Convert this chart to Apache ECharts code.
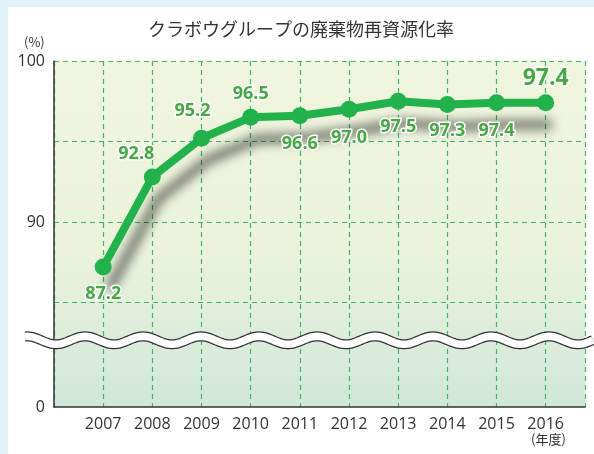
<!DOCTYPE html>
<html>
<head>
<meta charset="utf-8">
<script src="https://cdn.jsdelivr.net/npm/echarts@6.0.0/dist/echarts.min.js"></script>
<style>
  html, body { margin: 0; padding: 0; }
  body { width: 594px; height: 454px; background: #e0f2fa; position: relative; overflow: hidden; }
  #chart { position: absolute; left: 8px; top: 7px; width: 586px; height: 447px; background: #fff; }
</style>
</head>
<body>
<div id="chart"></div>
<script>
// 年度
var years = [2007, 2008, 2009, 2010, 2011, 2012, 2013, 2014, 2015, 2016];
// 再資源化率(%)
var rates = [87.2, 92.8, 95.2, 96.5, 96.6, 97.0, 97.5, 97.3, 97.4, 97.4];
// y軸の目盛ラベル(上段 / 下段)
var yTickLabels = [90, 100];
var yBaseLabels = [0];

var titleText = "クラボウグループの廃棄物再資源化率";
var green = "#22b24c";
var labelGreen = "#47a944";
var gridGreen = "#3db86b";
var dash = { color: gridGreen, type: [5, 4], width: 1.2 };

// ラベル位置(上/下)
function labelFor(i) {
  return [
    { position: "bottom", distance: 9 },
    { position: "top", distance: 6, offset: [-16, 0] },
    { position: "top", distance: 10, offset: [-9, 0] },
    { position: "top", distance: 6 },
    { position: "bottom", distance: 11 },
    { position: "bottom", distance: 11 },
    { position: "bottom", distance: 8 },
    { position: "bottom", distance: 9 },
    { position: "bottom", distance: 11 },
    { position: "top", distance: 4, fontSize: 23 }
  ][i];
}

var seriesData = years.map(function (y, i) {
  return { value: [y, rates[i]], label: labelFor(i) };
});

var myChart = echarts.init(document.getElementById("chart"));

var tickFont = { fontFamily: "Open Sans", fontSize: 16, color: "#333", margin: 9 };

var option = {
  animation: false,
  title: {
    text: titleText,
    left: "center",
    top: 13,
    padding: [0, 0, 0, 20],
    textStyle: {
      fontFamily: "Noto Sans CJK JP",
      fontSize: 18,
      fontWeight: "normal",
      color: "#333"
    }
  },
  grid: [
    // 上段 (80-100%)
    { left: 46, right: 9, top: 54, height: 322 },
    // 下地 (0〜)
    {
      left: 46,
      right: 9,
      top: 54,
      bottom: 47,
      show: true,
      borderWidth: 0,
      backgroundColor: new echarts.graphic.LinearGradient(0, 0, 0, 1, [
        { offset: 0, color: "#f0f5de" },
        { offset: 0.55, color: "#ebf3db" },
        { offset: 1, color: "#d1e7db" }
      ])
    }
  ],
  xAxis: [
    {
      gridIndex: 0,
      type: "value",
      min: 2006,
      max: 2016.8,
      interval: 1,
      show: false
    },
    {
      gridIndex: 1,
      type: "value",
      min: 2006,
      max: 2016.8,
      interval: 1,
      axisLine: { show: true, lineStyle: { color: "#333", width: 1.5 } },
      axisTick: { show: false },
      axisLabel: Object.assign({}, tickFont, {
        formatter: function (v) {
          return years.indexOf(v) >= 0 ? String(v) : "";
        }
      }),
      splitLine: { show: true, showMaxLine: true, lineStyle: dash }
    }
  ],
  yAxis: [
    {
      gridIndex: 0,
      type: "value",
      min: 80,
      max: 100,
      interval: 5,
      axisLine: { show: false },
      axisTick: { show: false },
      axisLabel: Object.assign({}, tickFont, {
        formatter: function (v) {
          return yTickLabels.indexOf(v) >= 0 ? String(v) : "";
        }
      }),
      splitLine: { show: true, showMinLine: false, lineStyle: dash }
    },
    {
      gridIndex: 1,
      type: "value",
      min: 0,
      max: 1,
      interval: 1,
      axisLine: { show: true, lineStyle: { color: "#333", width: 1.5 } },
      axisTick: { show: false },
      axisLabel: Object.assign({}, tickFont, {
        formatter: function (v) {
          return yBaseLabels.indexOf(v) >= 0 ? String(v) : "";
        }
      }),
      splitLine: { show: false }
    }
  ],
  series: [
    {
      type: "line",
      xAxisIndex: 0,
      yAxisIndex: 0,
      data: seriesData,
      symbol: "circle",
      symbolSize: 17,
      z: 5,
      lineStyle: {
        color: green,
        width: 8,
        shadowColor: "rgba(0,0,0,0.62)",
        shadowBlur: 11,
        shadowOffsetX: 6,
        shadowOffsetY: 22
      },
      itemStyle: { color: green },
      label: {
        show: true,
        fontFamily: "Open Sans",
        fontWeight: "bold",
        fontSize: 18,
        color: labelGreen,
        textBorderColor: "#fff",
        textBorderWidth: 3,
        formatter: function (p) {
          return p.value[1].toFixed(1);
        }
      }
    }
  ]
};

myChart.setOption(option);

// 省略記号の波線と単位
var yMid = myChart.convertToPixel({ yAxisIndex: 0 }, 82.65);
var wave = [];
for (var x = 17; x <= 586; x += 2) {
  wave.push([x, yMid - 4 * Math.cos((x - 19) / 58 * Math.PI * 2)]);
}

myChart.setOption({
  graphic: [
    {
      type: "polyline",
      z: 50,
      shape: { points: wave },
      style: { stroke: "#333", lineWidth: 10, fill: null }
    },
    {
      type: "polyline",
      z: 51,
      shape: { points: wave },
      style: { stroke: "#fff", lineWidth: 7.5, fill: null }
    },
    {
      type: "text",
      left: 16,
      top: 29,
      style: { text: "(%)", fontFamily: "Noto Sans CJK JP", fontSize: 13, fill: "#333" }
    },
    {
      type: "text",
      left: 523,
      top: 426,
      style: { text: "(年度)", fontFamily: "Noto Sans CJK JP", fontSize: 13, fill: "#333" }
    }
  ]
});
</script>
</body>
</html>
